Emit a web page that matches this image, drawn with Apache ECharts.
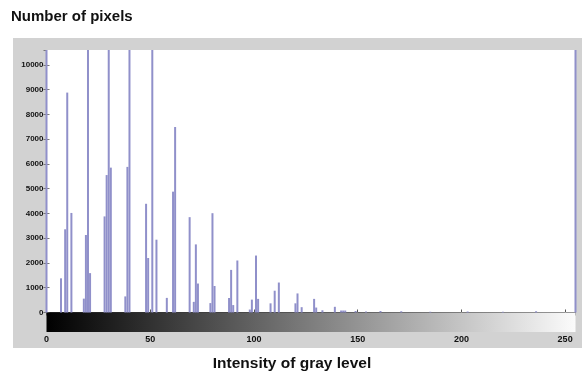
<!DOCTYPE html>
<html>
<head>
<meta charset="utf-8">
<script src="https://cdn.jsdelivr.net/npm/echarts@6/dist/echarts.min.js"></script>
<style>
  html, body { margin: 0; padding: 0; background: #fff; }
  #chart { width: 582px; height: 372px; }
</style>
</head>
<body>
<div id="chart"></div>
<script>
// gray level bins that have pixels, and how many pixels each one holds
const grayLevels = [0, 7, 9, 10, 12, 18, 19, 20, 21, 28, 29, 30, 31, 38, 39, 40,
  48, 49, 51, 53, 58, 61, 62, 69, 71, 72, 73, 79, 80, 81, 88, 89, 90, 92,
  98, 99, 101, 102, 108, 110, 112, 120, 121, 123, 129, 130, 133, 139,
  142, 143, 144, 149, 154, 161, 171, 185, 203, 220, 236, 255];
const pixelCounts = [14000, 1380, 3360, 8880, 4020, 560, 3130, 14000, 1590, 3880, 5550, 14000, 5850, 650, 5880, 14000,
  4390, 2200, 14000, 2940, 590, 4880, 7490, 3850, 430, 2750, 1170, 380, 4010, 1070, 585, 1720, 300, 2100,
  120, 520, 2300, 550, 370, 880, 1210, 370, 770, 215, 550, 200, 90, 230,
  80, 80, 80, 60, 40, 60, 50, 30, 40, 30, 50, 14000];
const xTicks = [0, 50, 100, 150, 200, 250];
const yTicks = [0, 1000, 2000, 3000, 4000, 5000, 6000, 7000, 8000, 9000, 10000];

const FONT = "'Liberation Sans', Arial, sans-serif";
const chart = echarts.init(document.getElementById("chart"));

const histData = grayLevels.map((g, i) => [g, pixelCounts[i]]);

const option = {
  animation: false,
  backgroundColor: "#fff",
  title: {
    text: "Number of pixels",
    left: 6,
    top: 4,
    textStyle: { fontFamily: FONT, fontSize: 15, fontWeight: "bold", color: "#111" },
  },
  graphic: [
    {
      type: "rect",
      z: -100,
      shape: { x: 13, y: 38, width: 569, height: 310 },
      style: { fill: "#d2d2d2" },
    },
    {
      type: "text",
      x: 292,
      y: 356,
      style: {
        text: "Intensity of gray level",
        textAlign: "center",
        textVerticalAlign: "top",
        font: "bold 15.5px " + FONT,
        fill: "#111",
      },
    },
  ],
  grid: [
    { left: 46.5, width: 529, top: 50, bottom: 59.5, show: true, backgroundColor: "#fff", borderWidth: 0 },
    { left: 46.5, width: 529, top: 312.5, bottom: 40, show: false },
  ],
  xAxis: [
    {
      type: "value", gridIndex: 0, min: 0, max: 255, interval: 50,
      axisLine: { show: true, lineStyle: { color: "#333", width: 1 } },
      axisTick: { show: true, inside: true, length: 3, lineStyle: { color: "#555" } },
      axisLabel: { show: false },
      splitLine: { show: false },
    },
    {
      type: "value", gridIndex: 0, position: "top", min: 0, max: 255, interval: 50,
      axisLine: { show: false },
      axisTick: { show: true, inside: true, length: 3, lineStyle: { color: "#777" } },
      axisLabel: { show: false },
      splitLine: { show: false },
    },
    {
      type: "value", gridIndex: 1, min: 0, max: 255, interval: 50,
      axisLine: { show: false },
      axisTick: { show: false },
      axisLabel: {
        margin: 3, fontFamily: FONT, fontSize: 9, fontWeight: "bold", color: "#111",
        formatter: (v) => (xTicks.includes(v) ? String(v) : ""),
      },
      splitLine: { show: false },
    },
  ],
  yAxis: [
    {
      type: "value", gridIndex: 0, min: 0, max: 10600, interval: 1000,
      axisLine: { show: false },
      axisTick: { show: true, inside: true, length: 3, lineStyle: { color: "#777" } },
      axisLabel: {
        margin: 3, fontFamily: FONT, fontSize: 8, fontWeight: "bold", color: "#111",
        showMaxLabel: false,
        formatter: (v) => (yTicks.includes(v) ? String(v) : ""),
      },
      splitLine: { show: false },
    },
    {
      type: "value", gridIndex: 0, position: "right", min: 0, max: 10600, interval: 1000,
      axisLine: { show: false },
      axisTick: { show: true, inside: true, length: 3, lineStyle: { color: "#777" } },
      axisLabel: { show: false },
      splitLine: { show: false },
    },
    {
      type: "value", gridIndex: 1, min: 0, max: 1,
      axisLine: { show: false }, axisTick: { show: false },
      axisLabel: { show: false }, splitLine: { show: false },
    },
  ],
  series: [
    {
      name: "histogram",
      type: "bar",
      xAxisIndex: 0,
      yAxisIndex: 0,
      data: histData,
      barWidth: 2,
      clip: true,
      itemStyle: { color: "#9090ca" },
    },
    {
      name: "gray bar",
      type: "line",
      xAxisIndex: 2,
      yAxisIndex: 2,
      data: [],
      markArea: {
        silent: true,
        itemStyle: {
          color: {
            type: "linear", x: 0, y: 0, x2: 1, y2: 0,
            colorStops: [
              { offset: 0, color: "#000" },
              { offset: 1, color: "#fbfbfb" },
            ],
          },
        },
        data: [[{ xAxis: 0, yAxis: 0 }, { xAxis: 255, yAxis: 1 }]],
      },
    },
  ],
};

chart.setOption(option);
</script>
</body>
</html>
